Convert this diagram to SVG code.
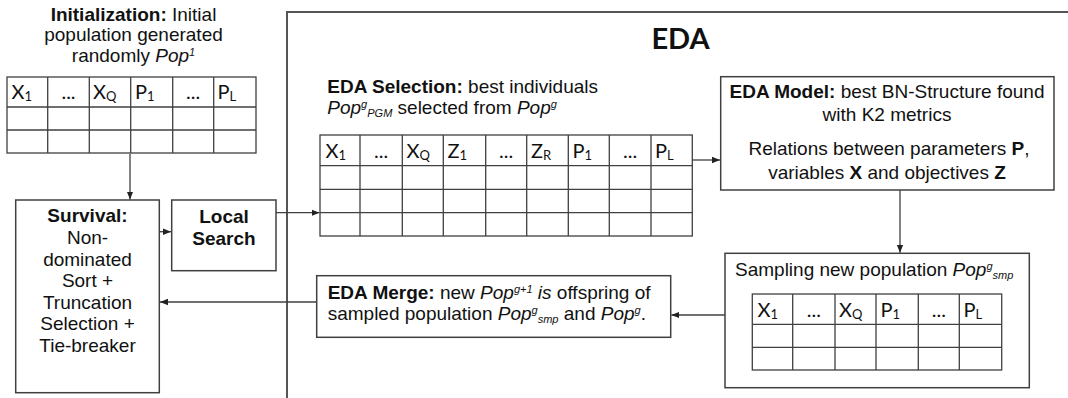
<svg xmlns="http://www.w3.org/2000/svg" width="1068" height="398" viewBox="0 0 1068 398">
  <style>
    .bg { fill: #ffffff; }
    .box { fill: #ffffff; stroke: #404040; stroke-width: 1.5; }
    .frame { fill: none; stroke: #555555; stroke-width: 2; }
    .grid { fill: none; stroke: #404040; stroke-width: 1.3; }
    .txt { font-family: "Liberation Sans", Arial, sans-serif; font-size: 19px; fill: #111111; }
    .b { font-weight: bold; }
    .i { font-style: italic; }
    .sm { font-size: 11px; }
    .hd { font-family: Lato, "Open Sans", sans-serif; font-size: 20px; fill: #111111; }
    .hs { font-size: 13px; }
    .title { font-family: Lato, "Open Sans", sans-serif; font-size: 29px; font-weight: bold; fill: #111111; }
    .conn { fill: none; stroke: #404040; stroke-width: 1.3; }
  </style>
  <defs>
    <marker id="arrow" markerUnits="userSpaceOnUse" markerWidth="8" markerHeight="8" viewBox="0 0 8 8" refX="8" refY="4" orient="auto">
      <path d="M0,0.8 L8,4 L0,7.2 Z" fill="#222222"/>
    </marker>
  </defs>

  <rect class="bg" x="0" y="0" width="1068" height="398"/>

  <!-- EDA frame -->
  <g id="eda-frame">
    <path class="frame" d="M287,398 V12 H1068"/>
    <text class="title" x="680.5" y="49" text-anchor="middle">EDA</text>
  </g>

  <!-- Initialization -->
  <g id="initialization">
    <text class="txt" x="133.5" y="21" text-anchor="middle"><tspan class="b">Initialization:</tspan> Initial</text>
    <text class="txt" x="133.5" y="41" text-anchor="middle">population generated</text>
    <text class="txt" x="133.5" y="61.5" text-anchor="middle">randomly <tspan class="i">Pop</tspan><tspan class="i sm" dy="-6">1</tspan></text>
    <rect class="grid" x="7" y="77" width="249" height="76"/>
    <path class="grid" d="M7,107 H256 M7,130 H256 M47.7,77 V153 M89.3,77 V153 M130.7,77 V153 M172.7,77 V153 M213.7,77 V153"/>
    <text class="hd" x="11.5" y="99">X<tspan class="hs" dy="2">1</tspan></text>
    <text class="hd" x="68.5" y="99" text-anchor="middle">...</text>
    <text class="hd" x="93" y="99">X<tspan class="hs" dy="2">Q</tspan></text>
    <text class="hd" x="135" y="99">P<tspan class="hs" dy="2">1</tspan></text>
    <text class="hd" x="193.2" y="99" text-anchor="middle">...</text>
    <text class="hd" x="217.5" y="99">P<tspan class="hs" dy="2">L</tspan></text>
  </g>

  <!-- Survival -->
  <g id="survival">
    <rect class="box" x="15.7" y="200" width="143.6" height="192.7"/>
    <text class="txt b" x="87.5" y="222" text-anchor="middle">Survival:</text>
    <text class="txt" x="87.5" y="244" text-anchor="middle">Non-</text>
    <text class="txt" x="87.5" y="265.5" text-anchor="middle">dominated</text>
    <text class="txt" x="87.5" y="287" text-anchor="middle">Sort +</text>
    <text class="txt" x="87.5" y="308.5" text-anchor="middle">Truncation</text>
    <text class="txt" x="87.5" y="330" text-anchor="middle">Selection +</text>
    <text class="txt" x="87.5" y="351.5" text-anchor="middle">Tie-breaker</text>
  </g>

  <!-- Local Search -->
  <g id="local-search">
    <rect class="box" x="171.7" y="200" width="104.3" height="70.7"/>
    <text class="txt b" x="224" y="222.5" text-anchor="middle">Local</text>
    <text class="txt b" x="224" y="244.5" text-anchor="middle">Search</text>
  </g>

  <!-- EDA Selection -->
  <g id="eda-selection">
    <text class="txt" x="327.3" y="93"><tspan class="b">EDA Selection:</tspan> best individuals</text>
    <text class="txt" x="327.3" y="113.5"><tspan class="i">Pop</tspan><tspan class="i sm" dy="-6">g</tspan><tspan class="i sm" dy="9">PGM</tspan><tspan dy="-3"> selected from </tspan><tspan class="i">Pop</tspan><tspan class="i sm" dy="-6">g</tspan></text>
    <rect class="grid" x="320" y="135" width="372.3" height="101"/>
    <path class="grid" d="M320,165.7 H692.3 M320,189.3 H692.3 M320,212.7 H692.3 M360,135 V236 M402.3,135 V236 M443.3,135 V236 M485.7,135 V236 M526.7,135 V236 M568.3,135 V236 M609.3,135 V236 M651,135 V236"/>
    <text class="hd" x="325.5" y="158">X<tspan class="hs" dy="2">1</tspan></text>
    <text class="hd" x="381.2" y="158" text-anchor="middle">...</text>
    <text class="hd" x="406.5" y="158">X<tspan class="hs" dy="2">Q</tspan></text>
    <text class="hd" x="447.5" y="158">Z<tspan class="hs" dy="2">1</tspan></text>
    <text class="hd" x="506.2" y="158" text-anchor="middle">...</text>
    <text class="hd" x="531" y="158">Z<tspan class="hs" dy="2">R</tspan></text>
    <text class="hd" x="572.5" y="158">P<tspan class="hs" dy="2">1</tspan></text>
    <text class="hd" x="630.2" y="158" text-anchor="middle">...</text>
    <text class="hd" x="655" y="158">P<tspan class="hs" dy="2">L</tspan></text>
  </g>

  <!-- EDA Model -->
  <g id="eda-model">
    <rect class="box" x="720.7" y="76.7" width="333.3" height="113.3"/>
    <text class="txt" x="887" y="98" text-anchor="middle"><tspan class="b">EDA Model:</tspan> best BN-Structure found</text>
    <text class="txt" x="887" y="121" text-anchor="middle">with K2 metrics</text>
    <text class="txt" x="889" y="155" text-anchor="middle">Relations between parameters <tspan class="b">P</tspan>,</text>
    <text class="txt" x="887" y="179" text-anchor="middle">variables <tspan class="b">X</tspan> and objectives <tspan class="b">Z</tspan></text>
  </g>

  <!-- Sampling -->
  <g id="sampling">
    <rect class="box" x="725" y="253.3" width="304.3" height="134.4"/>
    <text class="txt" x="735" y="276"><tspan>Sampling new population </tspan><tspan class="i">Pop</tspan><tspan class="i sm" dy="-6">g</tspan><tspan class="i sm" dy="9">smp</tspan></text>
    <rect class="grid" x="752.3" y="294" width="249.4" height="76"/>
    <path class="grid" d="M752.3,324.3 H1001.7 M752.3,347.3 H1001.7 M792.7,294 V370 M835,294 V370 M876,294 V370 M918.3,294 V370 M959.3,294 V370"/>
    <text class="hd" x="757.5" y="317">X<tspan class="hs" dy="2">1</tspan></text>
    <text class="hd" x="813.8" y="317" text-anchor="middle">...</text>
    <text class="hd" x="839" y="317">X<tspan class="hs" dy="2">Q</tspan></text>
    <text class="hd" x="880.5" y="317">P<tspan class="hs" dy="2">1</tspan></text>
    <text class="hd" x="938.8" y="317" text-anchor="middle">...</text>
    <text class="hd" x="963.5" y="317">P<tspan class="hs" dy="2">L</tspan></text>
  </g>

  <!-- EDA Merge -->
  <g id="eda-merge">
    <rect class="box" x="316.7" y="275.7" width="354" height="61.6"/>
    <text class="txt" x="327.7" y="298.5"><tspan class="b">EDA Merge:</tspan> new <tspan class="i">Pop</tspan><tspan class="i sm" dy="-6">g+1</tspan><tspan class="i" dy="6"> is</tspan> offspring of</text>
    <text class="txt" x="327.7" y="320"><tspan>sampled population </tspan><tspan class="i">Pop</tspan><tspan class="i sm" dy="-6">g</tspan><tspan class="i sm" dy="9">smp</tspan><tspan dy="-3"> and </tspan><tspan class="i">Pop</tspan><tspan class="i sm" dy="-6">g</tspan><tspan dy="6">.</tspan></text>
  </g>

  <!-- Connectors -->
  <g id="connectors">
    <path class="conn" d="M130,154 V199.5" marker-end="url(#arrow)"/>
    <path class="conn" d="M159.3,231.7 H171" marker-end="url(#arrow)"/>
    <path class="conn" d="M276,212.7 H319.5" marker-end="url(#arrow)"/>
    <path class="conn" d="M692.3,160 H720" marker-end="url(#arrow)"/>
    <path class="conn" d="M900,190 V252.8" marker-end="url(#arrow)"/>
    <path class="conn" d="M725,315 H671.3" marker-end="url(#arrow)"/>
    <path class="conn" d="M316.7,302 H160" marker-end="url(#arrow)"/>
  </g>
</svg>
